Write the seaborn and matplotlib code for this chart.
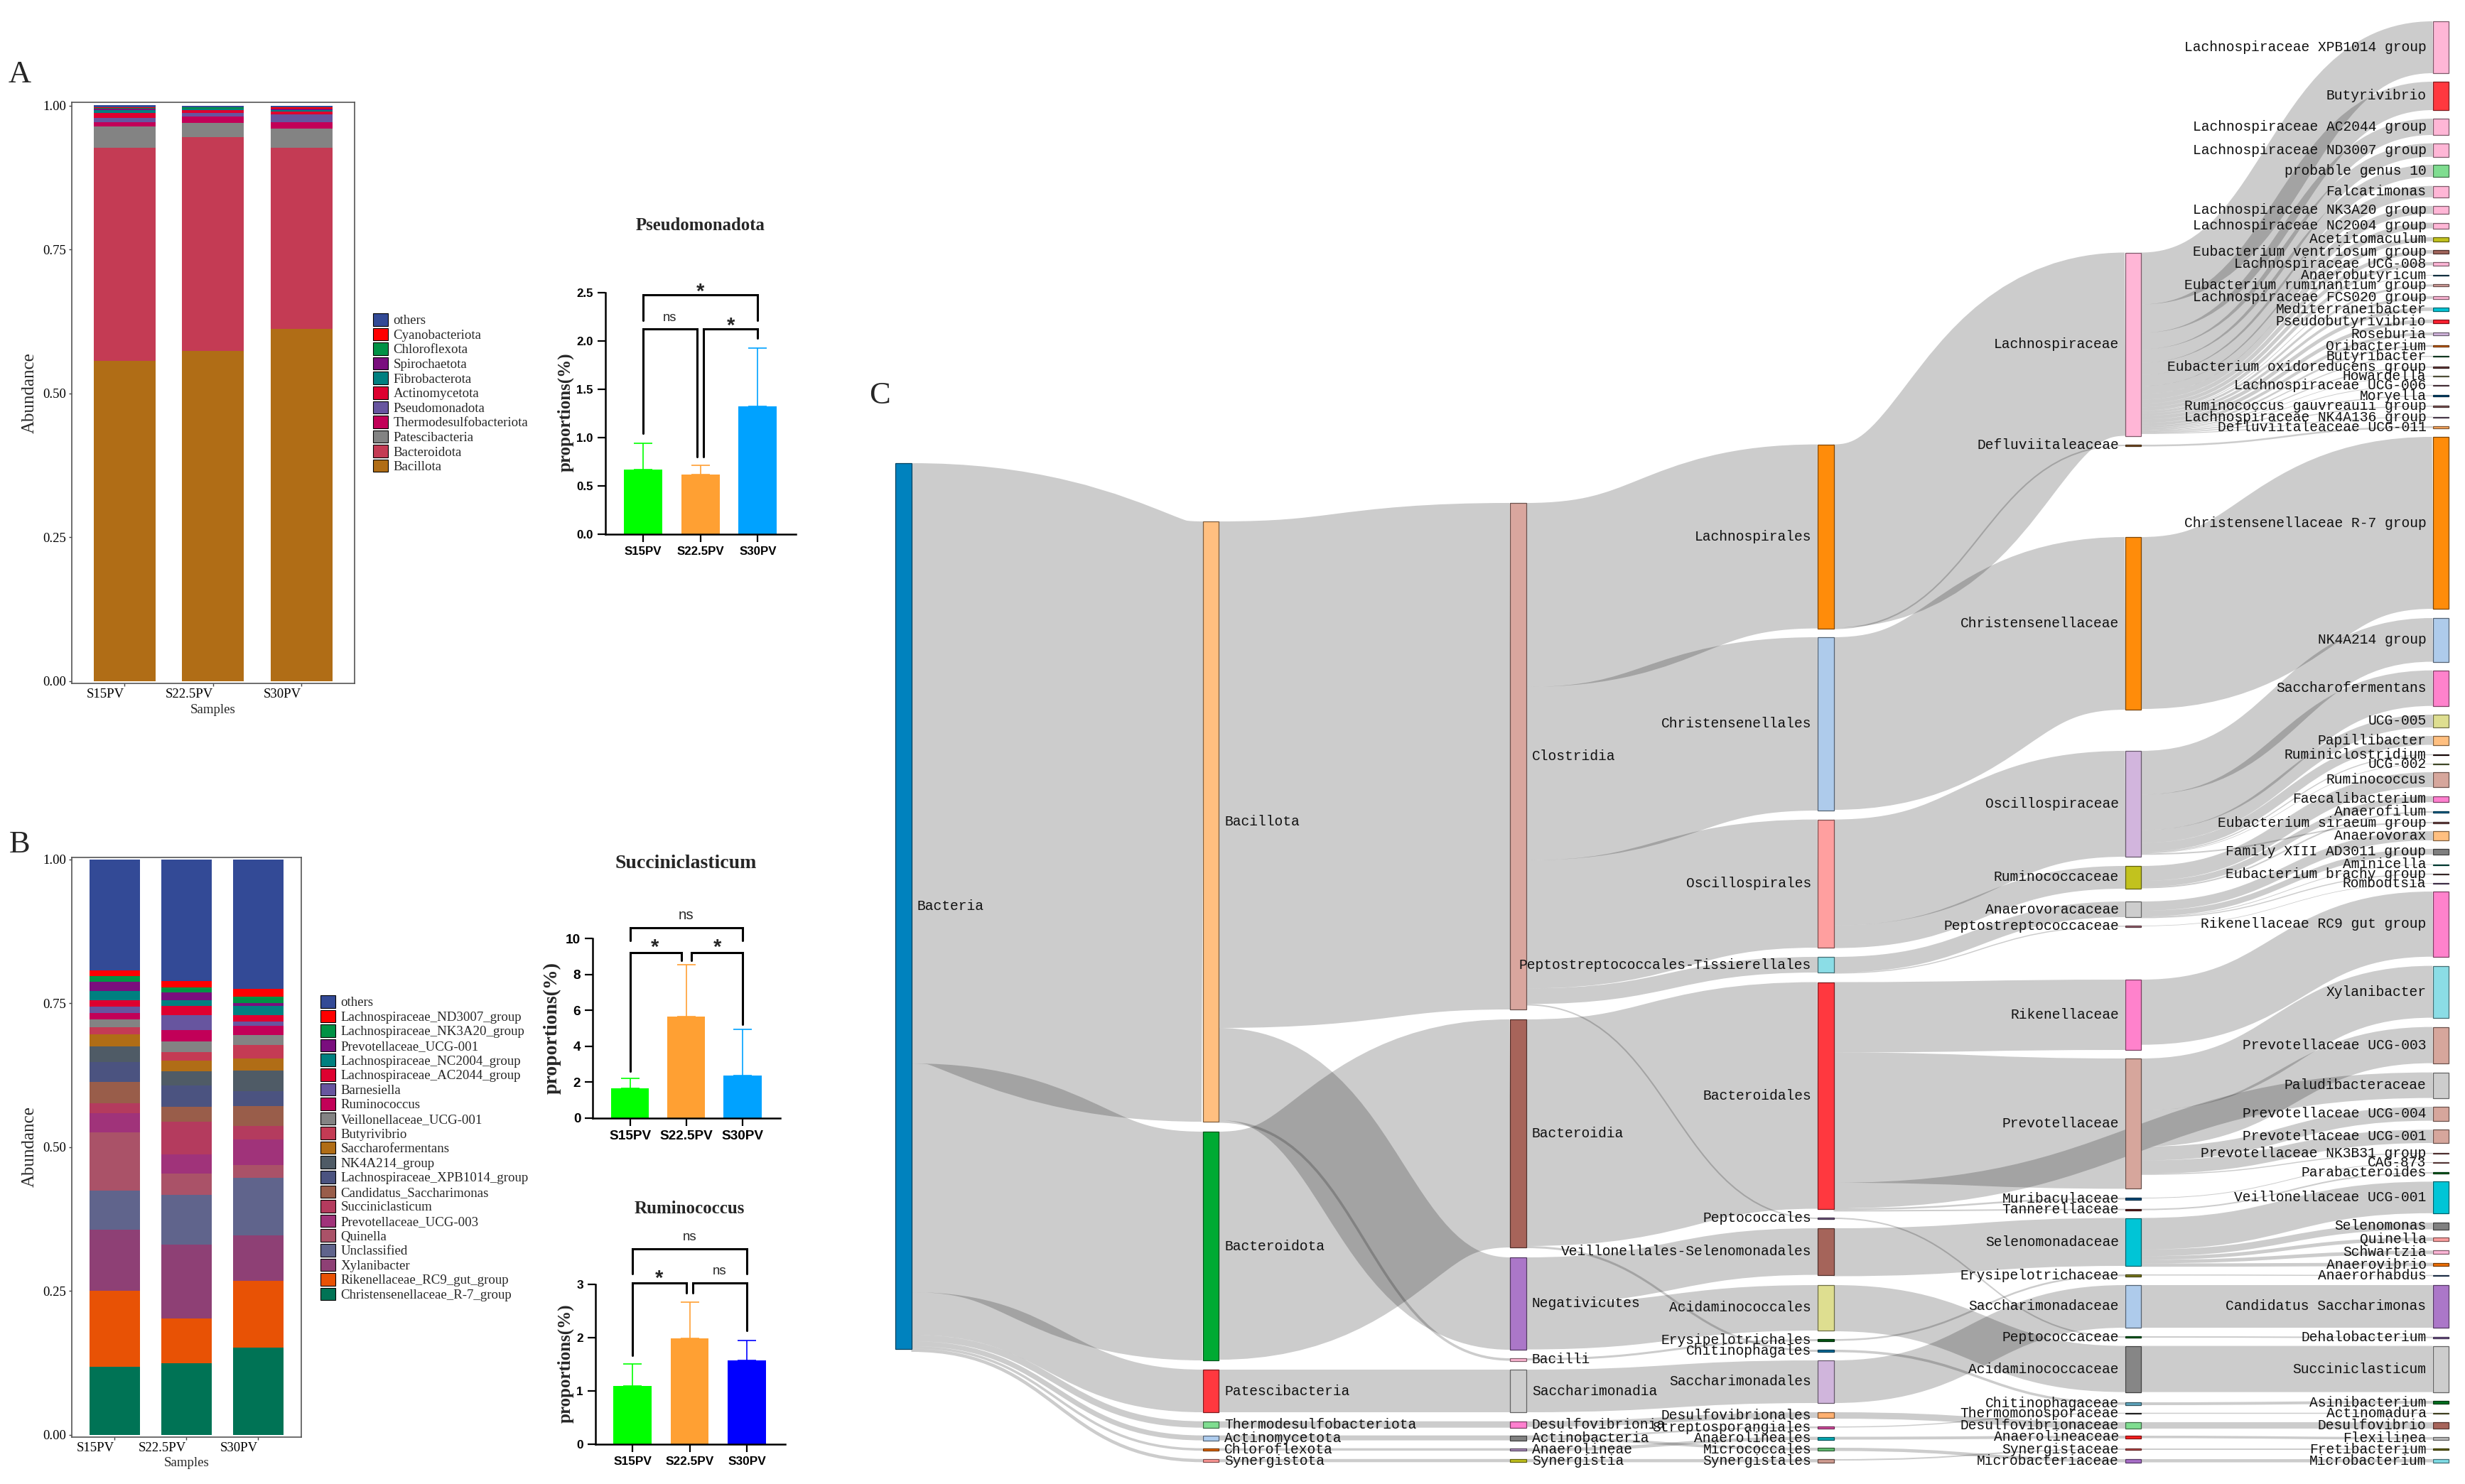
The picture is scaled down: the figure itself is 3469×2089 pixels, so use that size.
import matplotlib
matplotlib.use("Agg")
import matplotlib.pyplot as plt
from matplotlib.colors import to_rgb
from matplotlib.patches import Patch, PathPatch, Rectangle
from matplotlib.path import Path
import numpy as np
import seaborn as sns

W, H = 3469, 2089

# ---- panel A stacked bars
samples = ["S15PV", "S22.5PV", "S30PV"]
phyla = ["Bacillota", "Bacteroidota", "Patescibacteria", "Thermodesulfobacteriota", "Pseudomonadota",
         "Actinomycetota", "Fibrobacterota", "Spirochaetota", "Chloroflexota", "Cyanobacteriota", "others"]
phyla_s15 = [.556, .371, .037, .008, .0065, .009, .0045, .0023, .0016, .0016, .003]
phyla_s22 = [.574, .371, .0257, .010, .007, .0053, .0016, .0008, .0016, .0008, .0025]
phyla_s30 = [.6127, .314, .0339, .0109, .0131, .0054, .003, .0016, .0008, .0016, .003]
phyla_colors = ["#B06D16", "#C43B54", "#838383", "#C20058", "#67559F", "#DE0030", "#008080", "#7A0E7E",
                "#009245", "#FF0000", "#334A96"]

# ---- panel B stacked bars
genera = ["Christensenellaceae_R-7_group", "Rikenellaceae_RC9_gut_group", "Xylanibacter", "Unclassified", "Quinella",
          "Prevotellaceae_UCG-003", "Succiniclasticum", "Candidatus_Saccharimonas", "Lachnospiraceae_XPB1014_group",
          "NK4A214_group", "Saccharofermentans", "Butyrivibrio", "Veillonellaceae_UCG-001", "Ruminococcus",
          "Barnesiella", "Lachnospiraceae_AC2044_group", "Lachnospiraceae_NC2004_group", "Prevotellaceae_UCG-001",
          "Lachnospiraceae_NK3A20_group", "Lachnospiraceae_ND3007_group", "others"]
genera_s15 = [.118, .132, .107, .068, .101, .033, .017, .038, .034, .027, .021, .013, .013, .011, .011, .012, .016, .015, .011, .009, .193]
genera_s22 = [.124, .078, .128, .087, .037, .033, .057, .026, .037, .025, .018, .015, .019, .020, .025, .017, .010, .013, .009, .011, .211]
genera_s30 = [.152, .115, .080, .100, .022, .044, .024, .034, .026, .036, .021, .023, .018, .016, .007, .011, .016, .005, .012, .013, .225]
genera_colors = ["#007355", "#E85205", "#8E4075", "#60648C", "#AA5268", "#A0337A", "#B43B5E", "#995D4A", "#4B5380",
                 "#4F5B66", "#B06D16", "#C43B54", "#838383", "#C20058", "#67559F", "#DE0030", "#008080", "#7A0E7E",
                 "#009245", "#FF0000", "#334A96"]

# ---- small bar panels
pseudo_mean = [.67, .62, 1.32]
pseudo_err = [.27, .09, .605]
succ_mean = [1.66, 5.66, 2.39]
succ_err = [.54, 2.89, 2.54]
rumi_mean = [1.09, 1.98, 1.57]
rumi_err = [.414, .685, .38]

# ---- sankey: one name / value / parent list per level, layout tops kept apart
l0_names = ["Bacteria"]
l0_values = [1247]
l0_parents = [None]
l0_tops = [652]
l0_colors = ["#0082BE"]

l1_names = ["Bacillota", "Bacteroidota", "Patescibacteria", "Thermodesulfobacteriota", "Actinomycetota", "Chloroflexota", "Synergistota"]
l1_values = [845, 322, 60, 9, 7, 3.5, 4.5]
l1_parents = ["Bacteria"] * 7
l1_tops = [734, 1593, 1928, 2000.7, 2020.6, 2038.6, 2053.8]
l1_colors = ["#FFBF80", "#00AA33", "#FF383F", "#7FDD90", "#AECCEE", "#E96A00", "#FF9896"]

l2_names = ["Clostridia", "Bacteroidia", "Negativicutes", "Bacilli", "Saccharimonadia", "Desulfovibrionia", "Actinobacteria", "Anaerolineae", "Synergistia"]
l2_values = [713, 321, 130, 3.5, 60, 9, 7, 3.5, 4.5]
l2_parents = ["Bacillota", "Bacteroidota", "Bacillota", "Bacillota", "Patescibacteria", "Thermodesulfobacteriota", "Actinomycetota", "Chloroflexota", "Synergistota"]
l2_tops = [708, 1435, 1770, 1912, 1928, 2000.7, 2020.6, 2038.6, 2053.8]
l2_colors = ["#D9A69E", "#A7645A", "#AB77C8", "#FFB6D3", "#CDCDCD", "#FF7FCF", "#808080", "#AE8FBF", "#C2C21E"]

l3_names = ["Lachnospirales", "Christensenellales", "Oscillospirales", "Peptostreptococcales-Tissierellales", "Bacteroidales",
            "Peptococcales", "Veillonellales-Selenomonadales", "Acidaminococcales", "Erysipelotrichales", "Chitinophagales",
            "Saccharimonadales", "Desulfovibrionales", "Streptosporangiales", "Anaerolineales", "Micrococcales", "Synergistales"]
l3_values = [259, 244, 180.4, 22, 319, 2, 65.6, 64, 3, 3, 60, 8, 2.5, 4.5, 4, 4.5]
l3_parents = ["Clostridia", "Clostridia", "Clostridia", "Clostridia", "Bacteroidia", "Clostridia", "Negativicutes", "Negativicutes",
              "Bacilli", "Bacteroidia", "Saccharimonadia", "Desulfovibrionia", "Actinobacteria", "Anaerolineae", "Actinobacteria", "Synergistia"]
l3_tops = [625.6, 897, 1153.6, 1347, 1382.5, 1714, 1729, 1809, 1885, 1900, 1915, 1988, 2008, 2022.5, 2038, 2054]
l3_colors = ["#FF8C0A", "#AECBEB", "#FF9F9F", "#8BDDE6", "#FF383F", "#7F5F8F", "#A5645A", "#DEDE90", "#005A14", "#0070A0",
             "#D0B5DC", "#FFB070", "#DD4FA5", "#00AAB5", "#60BB70", "#CF9C90"]

l4_names = ["Lachnospiraceae", "Defluviitaleaceae", "Christensenellaceae", "Oscillospiraceae", "Ruminococcaceae", "Anaerovoracaceae",
            "Peptostreptococcaceae", "Rikenellaceae", "Prevotellaceae", "Muribaculaceae", "Tannerellaceae", "Selenomonadaceae",
            "Erysipelotrichaceae", "Saccharimonadaceae", "Peptococcaceae", "Acidaminococcaceae", "Chitinophagaceae",
            "Thermomonosporaceae", "Desulfovibrionaceae", "Anaerolineaceae", "Synergistaceae", "Microbacteriaceae"]
l4_values = [258, 2, 243, 149, 32, 22, 1.5, 99, 183.4, 2.5, 2, 67.5, 2.5, 60, 2, 65, 3.5, 1.5, 9, 4, 2, 4.5]
l4_parents = ["Lachnospirales", "Lachnospirales", "Christensenellales", "Oscillospirales", "Oscillospirales",
              "Peptostreptococcales-Tissierellales", "Peptostreptococcales-Tissierellales", "Bacteroidales", "Bacteroidales",
              "Bacteroidales", "Bacteroidales", "Veillonellales-Selenomonadales", "Erysipelotrichales", "Saccharimonadales",
              "Peptococcales", "Acidaminococcales", "Chitinophagales", "Streptosporangiales", "Desulfovibrionales",
              "Anaerolineales", "Synergistales", "Micrococcales"]
l4_tops = [355.5, 626, 756, 1057, 1219, 1269, 1303, 1379, 1490, 1686, 1701.6, 1714.5, 1794, 1809, 1881, 1894.6, 1974, 1988.7,
           2002, 2021, 2039, 2054]
l4_colors = ["#FFB6D6", "#8B5A2B", "#FF8C0A", "#D2B5DD", "#C2C21E", "#CDCDCD", "#B07080", "#FF82CC", "#D6A69C", "#004F80", "#6B2020",
             "#00C5D6", "#7F7F20", "#AECBEB", "#006B20", "#868686", "#60A8C0", "#444444", "#7FDD90", "#FF2020", "#D05050", "#A86FC8"]

l5_names = ["Lachnospiraceae XPB1014 group", "Butyrivibrio", "Lachnospiraceae AC2044 group", "Lachnospiraceae ND3007 group",
            "probable genus 10", "Falcatimonas", "Lachnospiraceae NK3A20 group", "Lachnospiraceae NC2004 group", "Acetitomaculum",
            "Eubacterium ventriosum group", "Lachnospiraceae UCG-008", "Anaerobutyricum", "Eubacterium ruminantium group",
            "Lachnospiraceae FCS020 group", "Mediterraneibacter", "Pseudobutyrivibrio", "Roseburia", "Oribacterium", "Butyribacter",
            "Eubacterium oxidoreducens group", "Howardella", "Lachnospiraceae UCG-006", "Moryella", "Ruminococcus gauvreauii group",
            "Lachnospiraceae NK4A136 group", "Defluviitaleaceae UCG-011", "Christensenellaceae R-7 group", "NK4A214 group",
            "Saccharofermentans", "UCG-005", "Papillibacter", "Ruminiclostridium", "UCG-002", "Ruminococcus", "Faecalibacterium",
            "Anaerofilum", "Eubacterium siraeum group", "Anaerovorax", "Family XIII AD3011 group", "Aminicella",
            "Eubacterium brachy group", "Romboutsia", "Rikenellaceae RC9 gut group", "Xylanibacter", "Prevotellaceae UCG-003",
            "Paludibacteraceae", "Prevotellaceae UCG-004", "Prevotellaceae UCG-001", "Prevotellaceae NK3B31 group", "CAG-873",
            "Parabacteroides", "Veillonellaceae UCG-001", "Selenomonas", "Quinella", "Schwartzia", "Anaerovibrio", "Anaerorhabdus",
            "Candidatus Saccharimonas", "Dehalobacterium", "Succiniclasticum", "Asinibacterium", "Actinomadura", "Desulfovibrio",
            "Flexilinea", "Fretibacterium", "Microbacterium"]
l5_values = [73, 40, 23, 19, 17, 16, 11, 8, 5.7, 5, 4.5, 1, 3, 3.7, 5, 5, 4, 2.5, 1.5, 1.5, .8, 1, 1.5, 1.5, 1.2, 2.5, 242, 61.5,
             50, 18, 12.5, 1.5, .8, 21, 8.5, 2, 2, 13, 8, 1, 1.5, .8, 91.7, 73, 51, 36, 19.6, 18.7, 1.5, 1, 2, 44.4, 9.5, 5, 5, 4.8,
             1.5, 60, 2, 65, 4, 1.5, 9, 3.5, 2, 4.5]
l5_parents = ["Lachnospiraceae"] * 25 + ["Defluviitaleaceae", "Christensenellaceae"] + ["Oscillospiraceae"] * 6 + \
             ["Ruminococcaceae", "Ruminococcaceae", "Ruminococcaceae", "Oscillospiraceae", "Anaerovoracaceae", "Anaerovoracaceae",
              "Anaerovoracaceae", "Anaerovoracaceae", "Peptostreptococcaceae", "Rikenellaceae", "Prevotellaceae", "Prevotellaceae",
              "Bacteroidales", "Prevotellaceae", "Prevotellaceae", "Prevotellaceae", "Muribaculaceae", "Tannerellaceae"] + \
             ["Selenomonadaceae"] * 5 + ["Erysipelotrichaceae", "Saccharimonadaceae", "Peptococcaceae", "Acidaminococcaceae",
              "Chitinophagaceae", "Thermomonosporaceae", "Desulfovibrionaceae", "Anaerolineaceae", "Synergistaceae", "Microbacteriaceae"]
l5_tops = [30, 115, 167, 201.7, 232, 261.7, 290, 313.5, 334, 352, 369, 387, 400.4, 417, 432.7, 449.8, 468, 485.8, 500.9, 516, 529,
           541.7, 556.4, 571, 586.6, 600, 615, 870, 943.7, 1006, 1036, 1061.7, 1075, 1087, 1120.7, 1142, 1157, 1170, 1195, 1216.5,
           1229.7, 1243, 1255, 1359.6, 1445.6, 1509.6, 1558, 1590.3, 1622.8, 1636, 1650, 1663.4, 1721, 1742, 1760.4, 1777.6, 1794.8,
           1809, 1881.7, 1894.6, 1972, 1988.7, 2002, 2023, 2039, 2054]
l5_colors = ["#FFB6D6", "#FF383F", "#FFB6D6", "#FFB6D6", "#7FDD90", "#FFB6D6", "#FFB6D6", "#FFB6D6", "#C2C21E", "#A0645A", "#FFB6D6",
             "#206080", "#D6A09C", "#FFB6D6", "#00C5D6", "#FF2030", "#D2B5DD", "#E06A10", "#207040", "#704040", "#A0A070", "#8B6070",
             "#004F80", "#906060", "#907090", "#FFAA60", "#FF8C0A", "#AECBEB", "#FF82CC", "#DEDE90", "#FFBF80", "#301010", "#809050",
             "#D6A69C", "#FF7FCF", "#0070A0", "#805050", "#FFBF80", "#7F7F7F", "#007060", "#705050", "#806090", "#FF82CC", "#8BDDE6",
             "#D6A69C", "#CDCDCD", "#D6A69C", "#D6A69C", "#A06060", "#B07070", "#006B20", "#00C5D6", "#808080", "#FF9F9F", "#FFB6D6",
             "#F07000", "#406090", "#AB77C8", "#8060A0", "#CDCDCD", "#007020", "#808040", "#A7645A", "#BBBBBB", "#707000", "#80DDE6"]

levels = [
    (l0_names, l0_values, l0_parents, l0_tops, l0_colors),
    (l1_names, l1_values, l1_parents, l1_tops, l1_colors),
    (l2_names, l2_values, l2_parents, l2_tops, l2_colors),
    (l3_names, l3_values, l3_parents, l3_tops, l3_colors),
    (l4_names, l4_values, l4_parents, l4_tops, l4_colors),
    (l5_names, l5_values, l5_parents, l5_tops, l5_colors),
]
level_x = [1260, 1692.7, 2125.4, 2558, 2990.8, 3423.5]
node_w = 22.5

sns.set_theme(style="ticks")
SERIF = "Liberation Serif"
SANS = "Liberation Sans"
plt.rcParams["font.family"] = [SERIF, "DejaVu Serif"]

fig = plt.figure(figsize=(W / 100, H / 100), dpi=100, facecolor="white")


def px_axes(left, top, right, bottom):
    return fig.add_axes([left / W, 1 - bottom / H, (right - left) / W, (bottom - top) / H])


def stacked(box, names, s15, s22, s30, colors, ylim, legend_xy, title_y):
    ax = px_axes(*box)
    bottom = np.zeros(3)
    handles = []
    for i, name in enumerate(names):
        vals = np.array([s15[i], s22[i], s30[i]])
        sns.barplot(x=samples, y=vals, bottom=bottom, color=colors[i], saturation=1, width=0.7, ax=ax, linewidth=0)
        bottom = bottom + vals
        handles.append(Patch(facecolor=colors[i], edgecolor="black", linewidth=0.8, label=name))
    ax.set_xlim(-0.6, 2.6)
    ax.set_ylim(*ylim)
    ax.set_yticks([0, .25, .5, .75, 1])
    ax.set_yticklabels(["0.00", "0.25", "0.50", "0.75", "1.00"], fontsize=13.5, color="black")
    ax.set_xticks([0, 1, 2])
    ax.set_xticklabels(samples, fontsize=13.5, ha="right", color="black")
    ax.tick_params(length=3, width=1, color="#444444", pad=2)
    ax.set_xlabel("")
    ax.set_ylabel("")
    for s in ax.spines.values():
        s.set_visible(True)
        s.set_color("#555555")
        s.set_linewidth(1.2)
    fig.text(42 / W, 1 - title_y / H, "Abundance", rotation=90, fontsize=18, ha="center", va="center")
    xmid = (box[0] + box[2]) / 2
    fig.text(xmid / W, 1 - (box[3] + 37) / H, "Samples", fontsize=13.6, ha="center", va="center")
    fig.legend(handles=handles[::-1], loc="upper left", bbox_to_anchor=(legend_xy[0] / W, 1 - legend_xy[1] / H),
               frameon=False, fontsize=13.6, borderpad=0, borderaxespad=0, labelspacing=0.07,
               handlelength=1.1, handleheight=1.06, handletextpad=0.42)
    return ax


stacked((100.5, 144, 499, 962), phyla, phyla_s15, phyla_s22, phyla_s30, phyla_colors, (-0.004, 1.006), (525, 441), 553)
stacked((100.5, 1207, 424, 2022.6), genera, genera_s15, genera_s22, genera_s30, genera_colors, (-0.0037, 1.0037), (451, 1401), 1614)


def small_bars(box, xlim, values, errs, colors, ymax, yticks, yfmt, width, title, title_xy, title_size, ylab_xy, ylab_size,
               tick_size, brackets, notes):
    ax = px_axes(*box)
    sns.barplot(x=samples, y=values, hue=samples, palette=colors, saturation=1, width=width, legend=False, ax=ax, linewidth=0)
    for i, (v, e) in enumerate(zip(values, errs)):
        ax.errorbar(i, v, yerr=[[0], [e]], color=colors[i], capsize=9.4, elinewidth=1.2, capthick=1.2, zorder=2)
    ax.set_xlim(*xlim)
    ax.set_ylim(0, ymax)
    ax.set_yticks(yticks)
    ax.set_yticklabels([yfmt % t for t in yticks], fontsize=tick_size, fontweight="bold", family=SANS, color="black")
    ax.set_xticks([0, 1, 2])
    ax.set_xticklabels(samples, fontsize=tick_size, fontweight="bold", family=SANS, color="black")
    ax.tick_params(length=8, width=1.6, color="black", pad=4)
    ax.set_xlabel("")
    ax.set_ylabel("")
    sns.despine(ax=ax)
    for s in ["left", "bottom"]:
        ax.spines[s].set_linewidth(1.8)
        ax.spines[s].set_color("black")
    for x0, x1, ytop, yl, yr in brackets:
        ax.plot([x0, x0, x1, x1], [yl, ytop, ytop, yr], color="black", lw=2.2, clip_on=False, solid_joinstyle="miter", zorder=5)
    for x, y, s in notes:
        if s == "*":
            ax.text(x, y, s, ha="center", va="center_baseline", fontsize=21, fontweight="bold", family=SANS, clip_on=False)
        else:
            ax.text(x, y, s, ha="center", va="center", fontsize=tick_size + 1, family=SANS, clip_on=False)
    fig.text(title_xy[0] / W, 1 - title_xy[1] / H, title, fontsize=title_size, fontweight="bold", ha="center", va="center")
    fig.text(ylab_xy[0] / W, 1 - ylab_xy[1] / H, "proportions(%)", fontsize=ylab_size, fontweight="bold", rotation=90, ha="center", va="center")


small_bars((851.5, 412, 1120, 752), (-.663, 2.664), pseudo_mean, pseudo_err, ["#00FF00", "#FFA033", "#00A2FF"], 2.5,
           [0, .5, 1, 1.5, 2, 2.5], "%.1f", .67, "Pseudomonadota", (985.6, 317), 17.8, (796, 580.6), 18, 12.2,
           [(0, 2, 2.477, 2.215, 2.215), (0, .945, 2.123, 1.043, .804), (1.055, 2, 2.123, .804, 2.027)],
           [(1, 2.53, "*"), (.464, 2.238, "ns"), (1.527, 2.18, "*")])
small_bars((834, 1321.3, 1098, 1574), (-.664, 2.669), succ_mean, succ_err, ["#00FF00", "#FFA033", "#00A2FF"], 10,
           [0, 2, 4, 6, 8, 10], "%d", .67, "Succiniclasticum", (965, 1216), 20, (777, 1447), 20, 13.7,
           [(0, 2, 10.62, 9.9, 9.9), (0, .917, 9.24, 2.61, 8.77), (1.093, 2, 9.24, 8.77, 5.21)],
           [(1, 11.3, "ns"), (.444, 9.6, "*"), (1.556, 9.6, "*")])
small_bars((837.5, 1807.6, 1105, 2033.4), (-.652, 2.67), rumi_mean, rumi_err, ["#00FF00", "#FFA033", "#0000FF"], 3,
           [0, 1, 2, 3], "%d", .66, "Ruminococcus", (970, 1701), 18, (796, 1919.6), 18, 12.4,
           [(0, 2, 3.66, 3.2, 3.2), (0, .95, 3.024, 1.67, 2.84), (1.06, 2, 3.024, 2.84, 2.125)],
           [(1, 3.875, "ns"), (.466, 3.14, "*"), (1.525, 3.24, "ns")])

for letter, x, y in [("A", 28, 105), ("B", 28, 1189), ("C", 1238, 557)]:
    fig.text(x / W, 1 - y / H, letter, fontsize=32, ha="center", va="center")

# ---- sankey
ax = fig.add_axes([0, 0, 1, 1], zorder=-1)
ax.set_xlim(0, W)
ax.set_ylim(H, 0)
ax.axis("off")

nodes = {}
for lv, (names, values, parents, tops, colors) in enumerate(levels):
    for name, val, par, top, col in zip(names, values, parents, tops, colors):
        nodes[name] = dict(level=lv, value=val, parent=par, top=top, color=col)

children = {}
for name, nd in nodes.items():
    if nd["parent"] is not None:
        children.setdefault(nd["parent"], []).append(name)


def ribbon(x0, x1, y0, y1, h):
    # link is a stroked centre line, its width measured across the curve
    xm = (x0 + x1) / 2
    verts = [(x0, y0 + h / 2), (xm, y0 + h / 2), (xm, y1 + h / 2), (x1, y1 + h / 2)]
    codes = [Path.MOVETO, Path.CURVE4, Path.CURVE4, Path.CURVE4]
    return PathPatch(Path(verts, codes), facecolor="none", edgecolor=(0, 0, 0, 0.2), linewidth=h * 0.72,
                     capstyle="butt", zorder=1)


for parent, kids in children.items():
    src = nodes[parent]
    y = src["top"]
    for kid in sorted(kids, key=lambda k: nodes[k]["top"]):
        nd = nodes[kid]
        ax.add_patch(ribbon(level_x[src["level"]] + node_w, level_x[nd["level"]], y, nd["top"], nd["value"]))
        y += nd["value"]

for name, nd in nodes.items():
    x = level_x[nd["level"]]
    edge = tuple(c * 0.49 for c in to_rgb(nd["color"]))
    ax.add_patch(Rectangle((x, nd["top"]), node_w, nd["value"], facecolor=nd["color"], edgecolor=edge, linewidth=0.9, zorder=3))
    yc = nd["top"] + nd["value"] / 2
    if nd["level"] < 3:
        ax.text(x + node_w + 8, yc, name, ha="left", va="center", family="Liberation Mono", fontsize=14.1, color="#111111", zorder=4)
    else:
        ax.text(x - 9, yc, name, ha="right", va="center", family="Liberation Mono", fontsize=14.1, color="#111111", zorder=4)

fig.savefig("out.png", dpi=100, facecolor="white")
